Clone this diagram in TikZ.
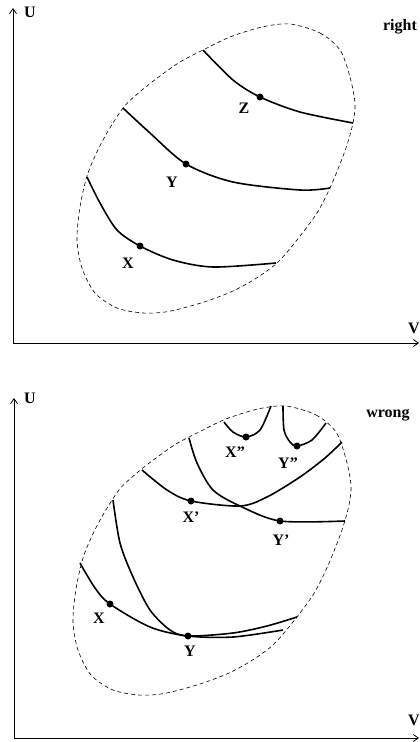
\documentclass[tikz,border=0pt]{standalone}
\usepackage{fontspec}
\setmainfont{Liberation Serif}
\usetikzlibrary{arrows.meta}

\begin{document}
\begin{tikzpicture}[
    x=1pt, y=-1pt,
    every node/.style={font=\fontsize{16}{19}\selectfont\bfseries},
    >={Straight Barb[length=5pt,width=7pt]},
    axis/.style={->, line width=0.8pt},
    curve/.style={line width=1.6pt},
    rim/.style={dash pattern=on 4pt off 3pt, line width=0.6pt}
]
  \useasboundingbox (0,0) rectangle (420,742);

  % the two dashed outlines, same shape
  \foreach \dx/\dy in {0/0, -4/382}
    \draw[rim, shift={(\dx,\dy)}] plot[smooth cycle] coordinates {
      (290,24)  (320,33)  (340,50)  (350,77)  (355,103) (353,123)
      (347,145) (340,164) (330,188) (317,213) (297,240) (277,263)
      (255,279) (233,291) (210,300) (187,307) (165,312) (143,313)
      (117,308) (95,293)  (82,268)  (77,240)  (80,207)  (88,173)
      (103,140) (123,108) (142,90)  (160,76)  (180,62)  (203,50)
      (230,37)  (262,27)
    };

  % upper panel: right
  \coordinate (o1) at (13,343);
  \draw[axis] (o1) -- (13,8);
  \draw[axis] (o1) -- (419,343);
  \node (u1) at (30,12) {U};
  \node (v1) at (414,328) {V};
  \node (right) at (400,27) {right};

  \coordinate (X) at (140,246);
  \coordinate (Y) at (186,164);
  \coordinate (Z) at (260,97);

  \draw[curve] plot[smooth] coordinates {
    (87,177) (100,203) (117,230) (X) (173,260) (213,267) (276,263)
  };
  \draw[curve] plot[smooth] coordinates {
    (123,108) (150,133) (Y) (233,182) (300,190) (330,188)
  };
  \draw[curve] plot[smooth] coordinates {
    (203,50) (233,80) (Z) (300,112) (353,123)
  };

  \foreach \p in {X, Y, Z}
    \fill (\p) circle (3.5);
  \node (lx) at (128,263) {X};
  \node (ly) at (172,182) {Y};
  \node (lz) at (244,108) {Z};

  % lower panel: wrong
  \coordinate (o2) at (14,738);
  \draw[axis] (o2) -- (14,398);
  \draw[axis] (o2) -- (419,738);
  \node (u2) at (30,398) {U};
  \node (v2) at (414,720) {V};
  \node (wrong) at (388,415) {wrong};

  \coordinate (X0) at (110,604);
  \coordinate (Y0) at (188,636);
  \coordinate (X1) at (191,501);
  \coordinate (Y1) at (280,521);
  \coordinate (X2) at (246,437);
  \coordinate (Y2) at (297,446);

  \draw[curve] plot[smooth] coordinates {
    (80,563) (95,588) (X0) (150,627) (Y0) (233,637) (283,630)
  };
  \draw[curve] plot[smooth] coordinates {
    (113,500) (120,543) (133,577) (150,610) (170,630) (Y0)
    (233,633) (267,626) (297,617)
  };
  \draw[curve] plot[smooth] coordinates {
    (142,470) (167,490) (X1) (240,506) (267,497) (300,477) (325,458)
    (342,442)
  };
  \draw[curve] plot[smooth] coordinates {
    (189,438) (197,463) (213,490) (240,506) (Y1) (345,521)
  };
  \draw[curve] plot[smooth] coordinates {
    (224,422) (233,432) (X2) (260,430) (271,406)
  };
  \draw[curve] plot[smooth] coordinates {
    (283,406) (284,430) (290,442) (Y2) (312,440) (326,423)
  };

  \foreach \p in {X0, Y0, X1, Y1, X2, Y2}
    \fill (\p) circle (3.5);
  \node (lx0) at (99,618) {X};
  \node (ly0) at (190,651) {Y};
  \node (lx1) at (191,517) {X'};
  \node (ly1) at (281,540) {Y'};
  \node (lx2) at (235,452) {X''};
  \node (ly2) at (288,463) {Y''};
\end{tikzpicture}
\end{document}
